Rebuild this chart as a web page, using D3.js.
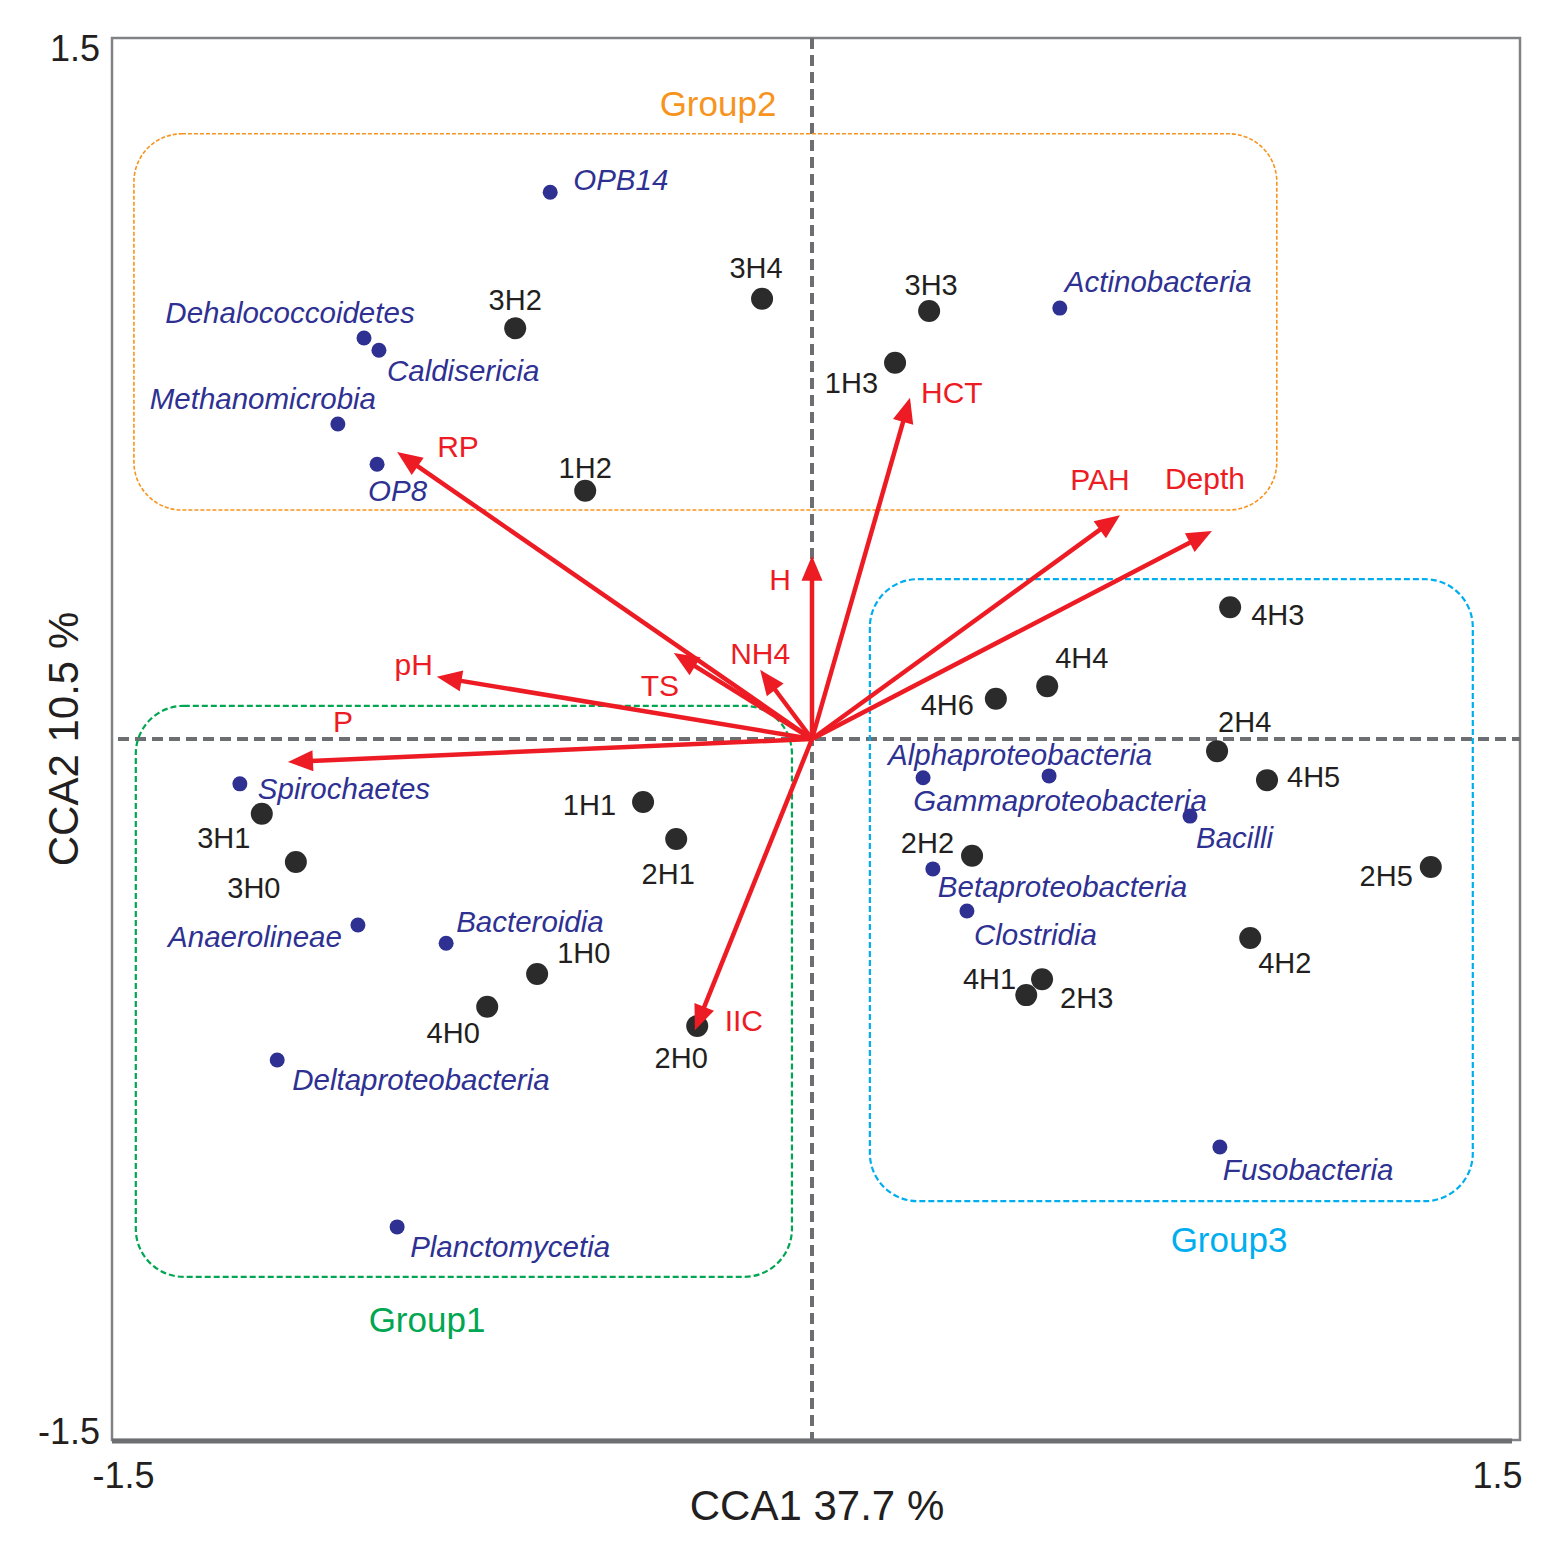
<!DOCTYPE html>
<html>
<head>
<meta charset="utf-8">
<script src="https://cdn.jsdelivr.net/npm/d3@7"></script>
<style>
  body { margin: 0; background: #fff; }
  text { font-family: "Liberation Sans", Arial, sans-serif; }
</style>
</head>
<body>
<div id="cca"></div>
<script>
// sample sites (CCA1, CCA2)
let sampleNames = ["3H4", "3H3", "3H2", "1H3", "1H2", "4H3", "4H4", "4H6", "2H4", "4H5", "2H5",
    "2H2", "4H2", "4H1", "2H3", "1H1", "2H1", "3H1", "3H0", "1H0", "4H0", "2H0"];
let sampleX = [-0.107, 0.251, -0.636, 0.178, -0.486, 0.896, 0.504, 0.394, 0.868, 0.975, 1.326,
    0.343, 0.939, 0.459, 0.493, -0.362, -0.291, -1.179, -1.106, -0.589, -0.696, -0.246];
let sampleY = [0.942, 0.916, 0.879, 0.805, 0.531, 0.282, 0.113, 0.086, -0.026, -0.088, -0.274,
    -0.250, -0.426, -0.548, -0.514, -0.135, -0.214, -0.160, -0.263, -0.503, -0.573, -0.614];

// taxa (class level)
let taxaNames = ["OPB14", "Actinobacteria", "Dehalococcoidetes", "Caldisericia", "Methanomicrobia", "OP8",
    "Spirochaetes", "Anaerolineae", "Bacteroidia", "Deltaproteobacteria", "Planctomycetia",
    "Alphaproteobacteria", "Gammaproteobacteria", "Bacilli", "Betaproteobacteria", "Clostridia", "Fusobacteria"];
let taxaX = [-0.561, 0.531, -0.960, -0.928, -1.016, -0.932, -1.226, -0.973, -0.784, -1.146, -0.889,
    0.238, 0.508, 0.810, 0.259, 0.332, 0.874];
let taxaY = [1.170, 0.922, 0.858, 0.832, 0.674, 0.588, -0.096, -0.398, -0.437, -0.687, -1.044,
    -0.083, -0.079, -0.165, -0.278, -0.368, -0.873];

// environmental vectors
let envNames = ["RP", "pH", "P", "TS", "NH4", "H", "HCT", "PAH", "Depth", "IIC"];
let envX = [-0.889, -0.804, -1.123, -0.296, -0.111, 0.0, 0.210, 0.660, 0.857, -0.251];
let envY = [0.614, 0.133, -0.049, 0.184, 0.148, 0.392, 0.730, 0.479, 0.445, -0.623];

// group hulls (x0, x1, y0, y1 in CCA units)
let groupNames = ["Group2", "Group1", "Group3"];
let groupX0 = [-1.453, -1.449, 0.124];
let groupX1 = [0.996, -0.043, 1.416];
let groupY0 = [0.490, -1.151, -0.989];
let groupY1 = [1.295, 0.071, 0.342];

let tickValues = [-1.5, 1.5];

// label offsets in px: [dx, dy, anchor]
let sampleLab = {
    "3H4": [-6, -21, "middle"], "3H3": [2, -16, "middle"], "3H2": [0, -18, "middle"],
    "1H3": [-17, 30, "end"], "1H2": [0, -13, "middle"], "4H3": [21, 18, "start"],
    "4H4": [8, -18, "start"], "4H6": [-22, 16, "end"], "2H4": [1, -19, "start"],
    "4H5": [20, 7, "start"], "2H5": [-18, 19, "end"], "2H2": [-18, -3, "end"],
    "4H2": [8, 35, "start"], "4H1": [-10, -6, "end"], "2H3": [18, 29, "start"],
    "1H1": [-27, 13, "end"], "2H1": [-8, 45, "middle"], "3H1": [-38, 34, "middle"],
    "3H0": [-42, 36, "middle"], "1H0": [20, -11, "start"], "4H0": [-34, 36, "middle"],
    "2H0": [-16, 42, "middle"]
};
let taxaLab = {
    "OPB14": [23, -2, "start"], "Actinobacteria": [5, -16, "start"],
    "Dehalococcoidetes": [-74, -15, "middle"], "Caldisericia": [8, 31, "start"],
    "Methanomicrobia": [-75, -15, "middle"], "OP8": [-9, 37, "start"],
    "Spirochaetes": [18, 15, "start"], "Anaerolineae": [-16, 22, "end"],
    "Bacteroidia": [10, -11, "start"], "Deltaproteobacteria": [15, 30, "start"],
    "Planctomycetia": [13, 30, "start"], "Alphaproteobacteria": [-35, -13, "start"],
    "Gammaproteobacteria": [11, 35, "middle"], "Bacilli": [6, 32, "start"],
    "Betaproteobacteria": [5, 28, "start"], "Clostridia": [7, 34, "start"],
    "Fusobacteria": [3, 33, "start"]
};
let envLab = {
    "RP": [40, 5, "start"], "pH": [-23, -2, "middle"], "P": [55, -30, "middle"],
    "TS": [-14, 43, "middle"], "NH4": [0, -6, "middle"], "H": [-32, 34, "middle"],
    "HCT": [11, 5, "start"], "PAH": [-20, -25, "middle"], "Depth": [-7, -42, "middle"],
    "IIC": [49, 1, "middle"]
};
let groupLab = { "Group2": [718, 116], "Group1": [427, 1332], "Group3": [1229, 1252] };
let groupColor = { "Group2": "#f7941d", "Group1": "#00a651", "Group3": "#00aeef" };

let width = 1559,
    height = 1556;
let margin = { left: 112, right: 47, top: 38, bottom: 116 };

let svg = d3.select("#cca")
    .append("svg")
    .attr("width", width)
    .attr("height", height);

let x = d3.scaleLinear().domain([-1.5, 1.5]).range([margin.left, width - margin.right]);
let y = d3.scaleLinear().domain([-1.5, 1.5]).range([height - margin.bottom, margin.top]);

let red = "#ed1c24", blue = "#2e3192", dark = "#231f20", grey = "#6d6e71";

// frame
svg.append("rect")
    .attr("x", x(-1.5)).attr("y", y(1.5))
    .attr("width", x(1.5) - x(-1.5) + 8).attr("height", y(-1.5) - y(1.5))
    .attr("fill", "none").attr("stroke", "#808285").attr("stroke-width", 2.5);
svg.append("line")
    .attr("x1", x(-1.5)).attr("x2", x(1.5))
    .attr("y1", y(-1.5) + 1).attr("y2", y(-1.5) + 1)
    .attr("stroke", grey).attr("stroke-width", 5);

// axes with two ticks only
let yAxis = svg.append("g")
    .attr("transform", `translate(${x(-1.5) - 10},0)`)
    .call(d3.axisLeft(y).tickValues(tickValues).tickSize(0).tickPadding(2).tickFormat(d3.format(".1f")));
let xAxis = svg.append("g")
    .attr("transform", `translate(0,${y(-1.5) + 22})`)
    .call(d3.axisBottom(x).tickValues(tickValues).tickSize(0).tickPadding(0).tickFormat(d3.format(".1f")));
[yAxis, xAxis].forEach(a => {
    a.select(".domain").remove();
    a.selectAll("text").attr("font-size", 36).attr("fill", dark)
        .attr("font-family", "'Liberation Sans', Arial, sans-serif");
});
yAxis.selectAll("text").attr("dy", d => d > 0 ? "0.62em" : "0.1em");
xAxis.selectAll("text").attr("dx", d => d < 0 ? 11 : -15).attr("dy", "0.71em");
xAxis.selectAll("text").text(d => d < 0 ? "-1.5" : "1.5");
yAxis.selectAll("text").text(d => d < 0 ? "-1.5" : "1.5");

// axis titles
svg.append("text")
    .attr("x", x(0) + 5).attr("y", 1520)
    .attr("text-anchor", "middle").attr("font-size", 42).attr("fill", dark)
    .text("CCA1 37.7 %");
svg.append("text")
    .attr("transform", `translate(78, ${y(0)}) rotate(-90)`)
    .attr("text-anchor", "middle").attr("font-size", 42).attr("fill", dark)
    .text("CCA2 10.5 %");

// zero lines
svg.append("line")
    .attr("x1", x(0)).attr("x2", x(0)).attr("y1", y(1.5)).attr("y2", y(-1.5))
    .attr("stroke", grey).attr("stroke-width", 4).attr("stroke-dasharray", "11,6");
svg.append("line")
    .attr("x1", x(-1.5) + 6).attr("x2", x(1.5) + 8).attr("y1", y(0)).attr("y2", y(0))
    .attr("stroke", grey).attr("stroke-width", 4).attr("stroke-dasharray", "11,6");

// groups
let groups = groupNames.map((g, i) => ({ name: g, x0: groupX0[i], x1: groupX1[i], y0: groupY0[i], y1: groupY1[i] }));
svg.selectAll(".grp")
    .data(groups)
    .enter()
    .append("rect")
    .attr("class", "grp")
    .attr("x", d => x(d.x0)).attr("y", d => y(d.y1))
    .attr("width", d => x(d.x1) - x(d.x0)).attr("height", d => y(d.y0) - y(d.y1))
    .attr("rx", 48).attr("ry", 48)
    .attr("fill", "none")
    .attr("stroke", d => groupColor[d.name])
    .attr("stroke-width", d => d.name === "Group2" ? 1.6 : 2.2)
    .attr("stroke-dasharray", d => d.name === "Group2" ? "4,2" : "6,3");
svg.selectAll(".grplab")
    .data(groups)
    .enter()
    .append("text")
    .attr("x", d => groupLab[d.name][0]).attr("y", d => groupLab[d.name][1])
    .attr("text-anchor", "middle").attr("font-size", 35)
    .attr("fill", d => groupColor[d.name])
    .text(d => d.name);

// environmental arrows
let env = envNames.map((n, i) => ({ name: n, x: envX[i], y: envY[i] }));
let headLen = 25, headW = 10.5;
let arrows = svg.selectAll(".env").data(env).enter().append("g").attr("class", "env");
arrows.each(function(d) {
    let g = d3.select(this);
    let x0 = x(0), y0 = y(0), x1 = x(d.x), y1 = y(d.y);
    let len = Math.hypot(x1 - x0, y1 - y0);
    let ux = (x1 - x0) / len, uy = (y1 - y0) / len;
    let bx = x1 - ux * headLen, by = y1 - uy * headLen;
    g.append("line")
        .attr("x1", x0).attr("y1", y0).attr("x2", bx + ux * 2).attr("y2", by + uy * 2)
        .attr("stroke", red).attr("stroke-width", 4.5);
    g.append("polygon")
        .attr("points", [[x1, y1], [bx - uy * headW, by + ux * headW], [bx + uy * headW, by - ux * headW]]
            .map(p => p.join(",")).join(" "))
        .attr("fill", red);
});

// sample points
let samples = sampleNames.map((n, i) => ({ name: n, x: sampleX[i], y: sampleY[i] }));
svg.selectAll(".site")
    .data(samples)
    .enter()
    .append("circle")
    .attr("class", "site")
    .attr("cx", d => x(d.x)).attr("cy", d => y(d.y))
    .attr("r", 11)
    .attr("fill", "#2b2b2b");

// IIC arrow head sits on top of 2H0
arrows.filter(d => d.name === "IIC").raise();

svg.selectAll(".sitelab")
    .data(samples)
    .enter()
    .append("text")
    .attr("x", d => x(d.x) + sampleLab[d.name][0])
    .attr("y", d => y(d.y) + sampleLab[d.name][1])
    .attr("text-anchor", d => sampleLab[d.name][2])
    .attr("font-size", 29)
    .attr("fill", dark)
    .text(d => d.name);

// taxa points
let taxa = taxaNames.map((n, i) => ({ name: n, x: taxaX[i], y: taxaY[i] }));
svg.selectAll(".taxon")
    .data(taxa)
    .enter()
    .append("circle")
    .attr("class", "taxon")
    .attr("cx", d => x(d.x)).attr("cy", d => y(d.y))
    .attr("r", 7.5)
    .attr("fill", blue);
svg.selectAll(".taxlab")
    .data(taxa)
    .enter()
    .append("text")
    .attr("x", d => x(d.x) + taxaLab[d.name][0])
    .attr("y", d => y(d.y) + taxaLab[d.name][1])
    .attr("text-anchor", d => taxaLab[d.name][2])
    .attr("font-size", 29.5)
    .attr("font-style", "italic")
    .attr("fill", blue)
    .text(d => d.name);

// env labels
svg.selectAll(".envlab")
    .data(env)
    .enter()
    .append("text")
    .attr("x", d => x(d.x) + envLab[d.name][0])
    .attr("y", d => y(d.y) + envLab[d.name][1])
    .attr("text-anchor", d => envLab[d.name][2])
    .attr("font-size", 30)
    .attr("fill", red)
    .text(d => d.name);
</script>
</body>
</html>
